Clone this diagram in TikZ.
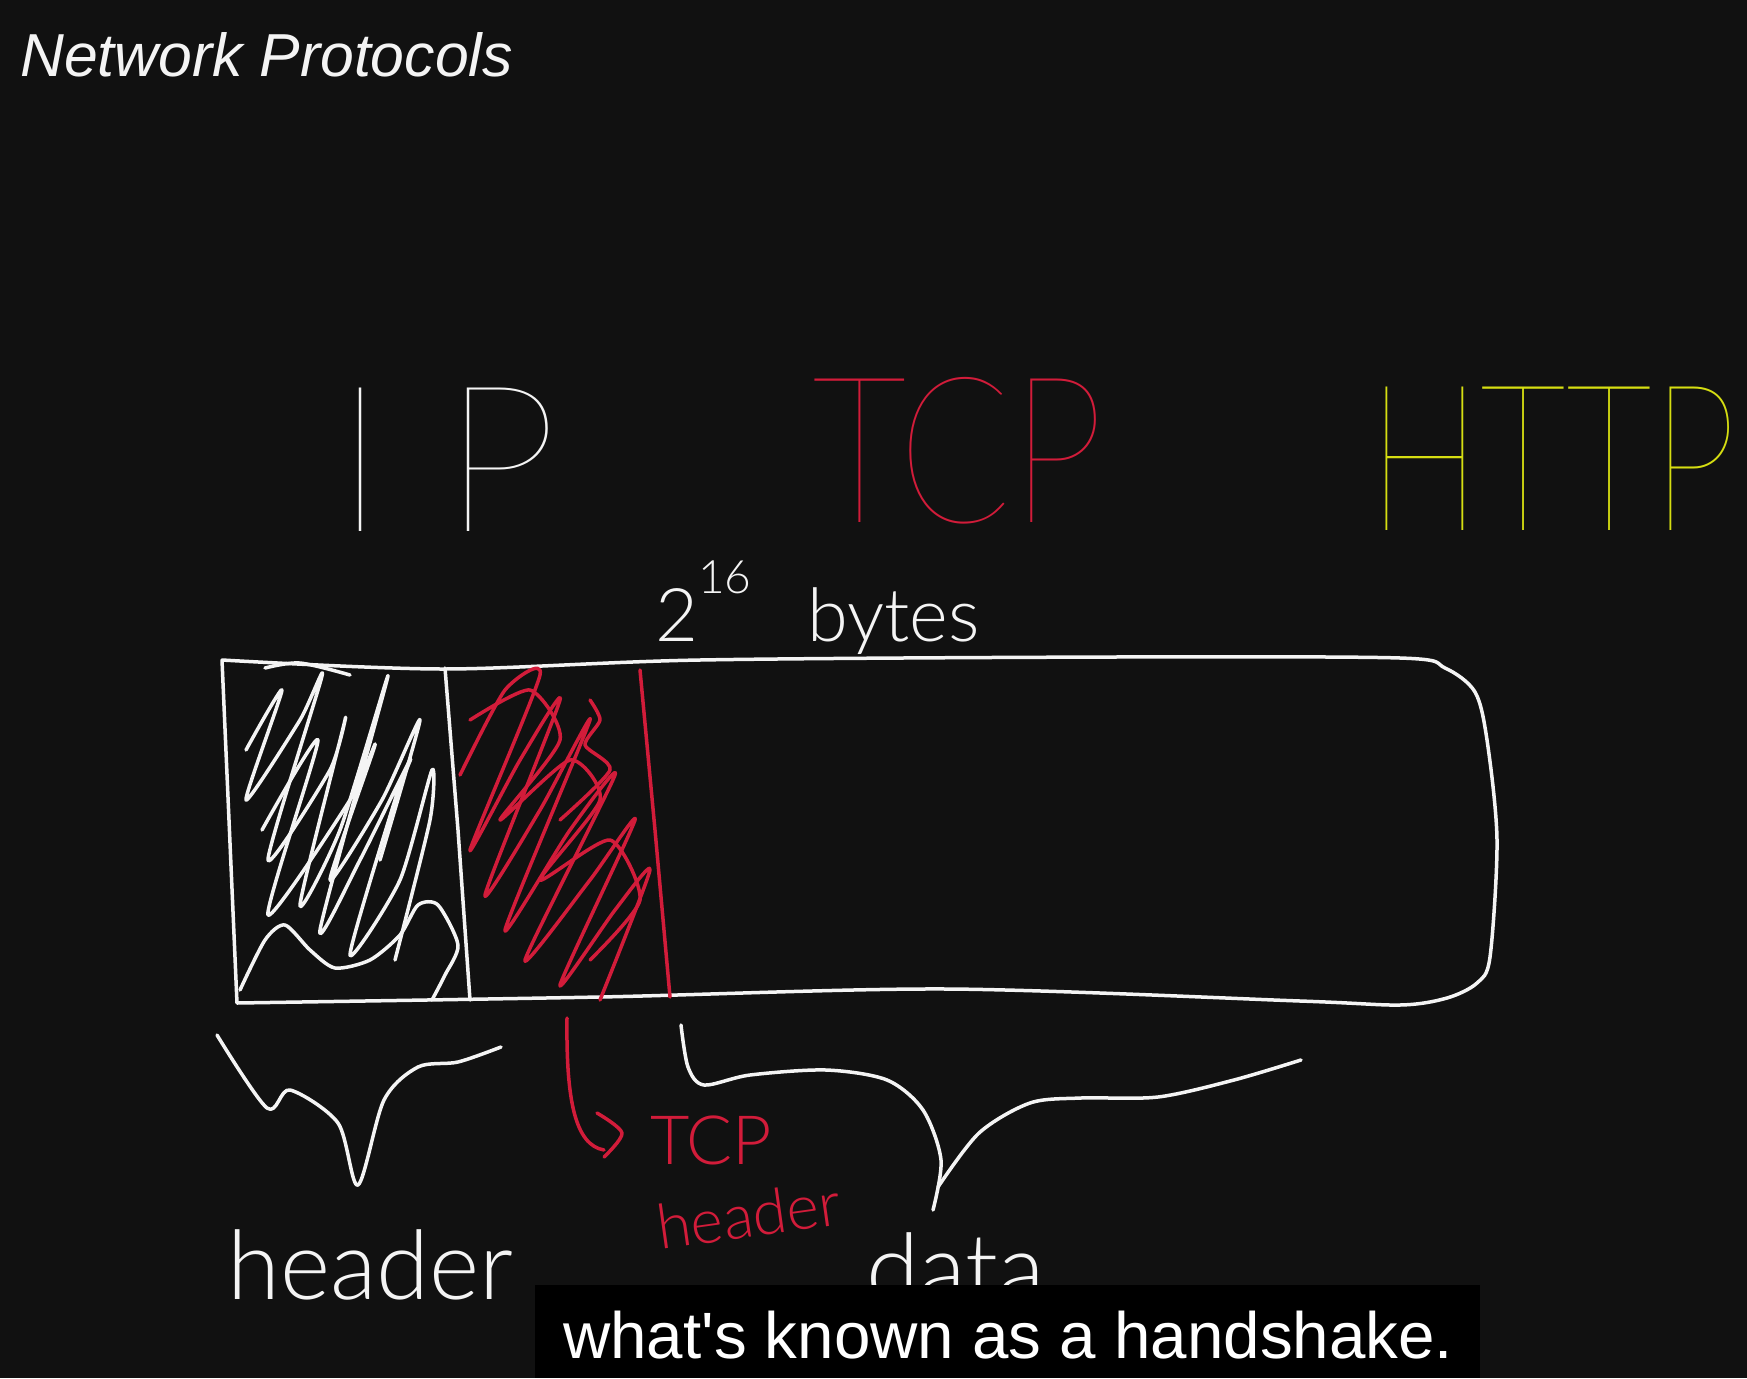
\documentclass[tikz,border=0pt]{standalone}
\usepackage{fontspec}
\setmainfont{Liberation Sans}
\newfontfamily\handfont{Lato Hairline}
\newfontfamily\penfont{Lato Light}
\newfontfamily\capfont{Liberation Sans}[Ligatures=ResetAll]
\definecolor{board}{HTML}{111111}
\definecolor{ink}{HTML}{F4F4F4}
\definecolor{inkred}{RGB}{210,28,58}
\definecolor{inkyellow}{RGB}{214,222,18}
\tikzset{
	hand/.style={draw=ink, line width=3.5pt, line cap=round, line join=round},
	redhand/.style={hand, draw=inkred},
	word/.style={inner sep=0pt, anchor=base west, text=ink, font=\penfont},
	bigword/.style={word, font=\handfont\fontsize{205}{205}\selectfont},
}

\begin{document}
\begin{tikzpicture}[x=1pt, y=-1pt]
	\fill[board] (0,0) rectangle (1747,1378);
	\useasboundingbox (0,0) rectangle (1747,1378);
	\node[inner sep=0pt, anchor=base west, text=ink, font=\itshape\fontsize{60.7}{60.7}\selectfont] (title) at (20,77) {Network Protocols};

	\node[bigword] (ip) at (335,531) {I\hspace{58pt}P};
	\node[bigword, text=inkred] (tcp) at (812,522) {\scalebox{0.81}[1]{TCP}};
	\node[bigword, text=inkyellow] (http) at (1368,530) {\scalebox{0.735}[1]{HTTP}};
	\node[word] (size) at (655,641) {\fontsize{74}{74}\selectfont 2\raisebox{0.64em}{\fontsize{46}{46}\selectfont 16}\hspace{56pt}bytes};

	\draw[hand] plot[smooth, tension=0.5] coordinates {(222,660) (443,669) (700,660) (1114,657) (1400,658) (1445,668) (1475,692) (1487,740) (1497,840) (1490,957) (1477,983) (1447,998) (1400,1005) (1300,1001) (947,989) (600,997) (237,1003)} -- (222,660);
	\draw[hand] (445,668) -- (458,830) -- (470,1000);
	\draw[redhand] (640,670) -- (655,830) -- (670,997);

	\draw[hand] plot[smooth, tension=0.4] coordinates {(246,750) (282,690) (246,800) (300,720) (322,676) (268,860) (330,770) (345,720) (300,905) (340,830) (388,676) (320,930) (360,860) (410,760) (395,800) (350,955) (400,880) (432,770) (430,820) (395,960)};
	\draw[hand] plot[smooth, tension=0.4] coordinates {(262,830) (318,740) (268,915) (350,800) (375,745) (330,880) (382,800) (420,720) (380,860)};
	\draw[hand] plot[smooth, tension=0.45] coordinates {(240,990) (265,940) (285,925) (310,950) (335,968) (370,960) (400,935) (418,905) (438,905) (458,945) (445,975) (432,1000)};
	\draw[hand] plot[smooth, tension=0.5] coordinates {(265,668) (300,663) (350,675)};
	\draw[redhand] plot[smooth, tension=0.4] coordinates {(460,775) (505,690) (540,675) (470,850) (520,760) (560,700) (485,895) (540,810) (590,720) (505,930) (570,830) (615,775) (525,960) (590,880) (635,820) (560,985) (615,910) (650,870) (600,1000)};
	\draw[redhand] plot[smooth, tension=0.4] coordinates {(470,720) (530,690) (560,740) (500,820) (570,760) (600,800) (540,880) (610,840) (640,900) (590,960)};
	\draw[redhand] plot[smooth, tension=0.4] coordinates {(590,700) (600,720) (585,745) (610,770) (560,820)};

	\draw[hand] plot[smooth, tension=0.5] coordinates {(217,1035) (267,1108) (290,1090) (338,1123) (358,1185) (384,1100) (418,1067) (458,1062) (501,1047)};
	\draw[hand] plot[smooth, tension=0.5] coordinates {(681,1025) (688,1067) (704,1085) (750,1075) (826,1070) (887,1080) (923,1110) (941,1160) (933,1210)};
	\draw[hand] plot[smooth, tension=0.5] coordinates {(938,1187) (979,1133) (1030,1103) (1081,1098) (1158,1097) (1234,1080) (1301,1060)};

	\coordinate (cell) at (567,1018);
	\coordinate (tip) at (604,1150);
	\draw[redhand] (cell) .. controls (566,1100) and (575,1145) .. (tip);
	\draw[redhand] plot[smooth, tension=0.5] coordinates {(597,1113) (622,1133) (604,1157)};

	\node[word] (hdr) at (227,1299) {\fontsize{96}{96}\selectfont header};
	\node[word, text=inkred] (tcplabel) at (650,1164) {\fontsize{68}{68}\selectfont TCP};
	\node[word, text=inkred, rotate=8] (tcphdr) at (660,1250) {\fontsize{62}{62}\selectfont header};
	\node[word] (data) at (866,1302) {\fontsize{96}{96}\selectfont data};

	\fill[black] (535,1285) rectangle (1480,1378);
	\node[inner sep=0pt, anchor=base west, text=white, font=\capfont\fontsize{65.5}{65.5}\selectfont] (caption) at (563,1358) {what's known as a handshake.};
\end{tikzpicture}
\end{document}
